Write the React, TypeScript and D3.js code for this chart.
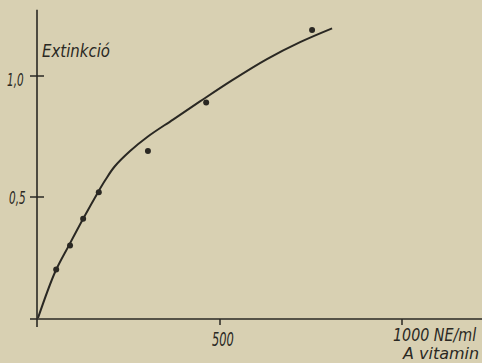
import * as d3 from "d3";
import React from "react";

// A vitamin (NE/ml) vs extinction
const pointX = [50, 88, 124, 167, 302, 462, 753];
const pointY = [0.2, 0.3, 0.41, 0.52, 0.69, 0.89, 1.19];

// hand-drawn calibration curve
const curveX = [0, 47, 85, 124, 165, 185, 210, 253, 302, 371, 445, 536, 629, 720, 808];
const curveY = [0, 0.19, 0.3, 0.41, 0.52, 0.57, 0.625, 0.69, 0.75, 0.82, 0.895, 0.985, 1.07, 1.14, 1.197];

const yTicks = [0.5, 1.0];
const yTickLabels = ["0,5", "1,0"];
const xTicks = [500, 1000];

const width = 482;
const height = 363;
const paper = "#d8d0b2";
const ink = "#2a2823";
const font = "'DejaVu Sans', sans-serif";

function Label(props: { x: number; y: number; size: number; sx: number; text: string }) {
  return (
    <text
      transform={`translate(${props.x},${props.y}) scale(${props.sx},1)`}
      fontFamily={font}
      fontStyle="italic"
      fontSize={props.size}
      fill={ink}
    >
      {props.text}
    </text>
  );
}

export default function App() {
  const x = d3.scaleLinear().domain([0, 1000]).range([38, 402]);
  const y = d3.scaleLinear().domain([0, 1]).range([318, 76]);

  const line = d3
    .line<number>()
    .x((d) => x(d))
    .y((_, i) => y(curveY[i]))
    .curve(d3.curveCatmullRom.alpha(0.5));

  const axisX = x(0) - 1;
  const axisY = y(0) + 1;

  return (
    <svg
      width={width}
      height={height}
      style={{ position: "absolute", left: 0, top: 0, background: paper }}
    >
      <rect width={width} height={height} fill={paper} />

      {/* axes */}
      <line x1={axisX} x2={axisX} y1={y(1.274)} y2={y(-0.037)} stroke={ink} strokeWidth={1.6} />
      <line x1={x(-22)} x2={width} y1={axisY} y2={axisY} stroke={ink} strokeWidth={1.6} />

      {yTicks.map((t, i) => (
        <g key={t}>
          <line x1={axisX - 7} x2={axisX + 7} y1={y(t)} y2={y(t)} stroke={ink} strokeWidth={1.5} />
          <Label x={i === 0 ? 9 : 7} y={y(t) + (i === 0 ? 7 : 10)} size={18} sx={0.58} text={yTickLabels[i]} />
        </g>
      ))}

      {xTicks.map((t) => (
        <line key={t} x1={x(t)} x2={x(t)} y1={axisY} y2={axisY + 6} stroke={ink} strokeWidth={1.5} />
      ))}
      <Label x={212} y={346} size={19} sx={0.6} text="500" />
      <Label x={393} y={341} size={17} sx={0.84} text="1000 NE/ml" />
      <Label x={403} y={359} size={16} sx={1.0} text="A vitamin" />
      <Label x={42} y={57} size={17} sx={0.88} text="Extinkció" />

      {/* curve */}
      <path d={line(curveX) ?? ""} fill="none" stroke={ink} strokeWidth={2} />

      {/* measured points */}
      {pointX.map((px, i) => (
        <circle key={i} cx={x(px)} cy={y(pointY[i])} r={3} fill={ink} />
      ))}
    </svg>
  );
}
